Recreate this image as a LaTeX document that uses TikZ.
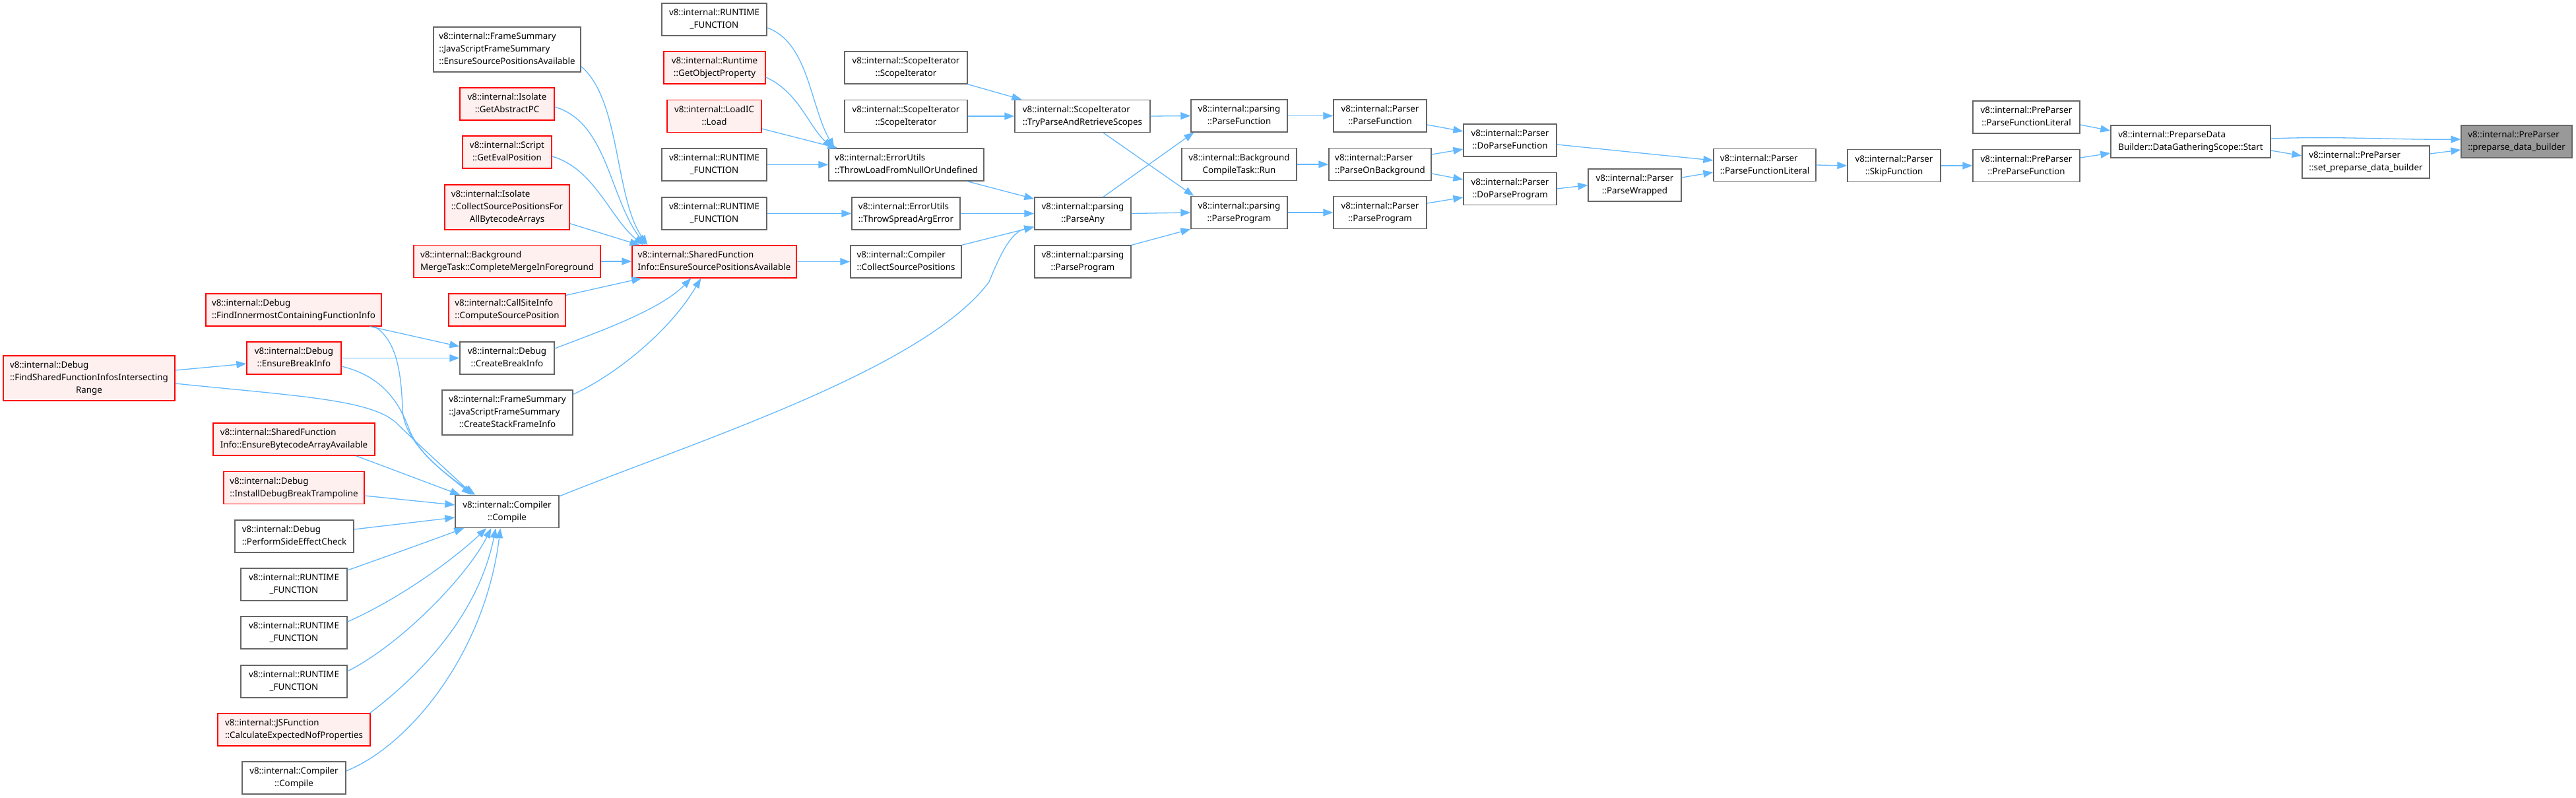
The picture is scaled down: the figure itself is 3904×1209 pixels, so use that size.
\documentclass[tikz,border=0pt]{standalone}
\usepackage{fontspec}
\setmainfont{Noto Sans}
\usetikzlibrary{arrows.meta}
\definecolor{ebl}{HTML}{63B8FF}
\definecolor{bgr}{HTML}{666666}
\definecolor{rfill}{HTML}{FFF0F0}
\definecolor{tgray}{HTML}{999999}
\newcommand\lbl[2]{\begin{tabular}{@{}l@{}}#1\\\multicolumn{1}{@{}c@{}}{#2}\end{tabular}}
\tikzset{
  wbox/.style={draw=bgr, fill=white, line width=1.3pt, inner sep=0pt,
    font=\fontsize{13.33}{19}\selectfont, minimum height=49pt},
  rbox/.style={wbox, draw=red, fill=rfill},
  tbox/.style={wbox, fill=tgray},
  ln/.style={draw=ebl, line width=1.3pt, -{Triangle[length=15pt,width=11pt]}}
}
\begin{document}
\begin{tikzpicture}[x=1pt,y=1pt]
\useasboundingbox (0,0) rectangle (3904,-1209);
% column 1
\node[rbox, minimum width=260pt, minimum height=68pt] (fsr) at (135,-573) {\lbl{v8::internal::Debug\\::FindSharedFunctionInfosIntersecting}{Range}};
% column 2
\node[rbox, minimum width=266pt] (finn) at (445,-469.5) {\lbl{v8::internal::Debug}{::FindInnermostContainingFunctionInfo}};
\node[rbox, minimum width=143pt] (ebi) at (445.5,-542.5) {\lbl{v8::internal::Debug}{::EnsureBreakInfo}};
\node[rbox, minimum width=245pt] (ebaa) at (445.5,-665.5) {\lbl{v8::internal::SharedFunction}{Info::EnsureBytecodeArrayAvailable}};
\node[rbox, minimum width=213pt] (idbt) at (445.5,-739) {\lbl{v8::internal::Debug}{::InstallDebugBreakTrampoline}};
\node[wbox, minimum width=180pt] (psec) at (446,-812.5) {\lbl{v8::internal::Debug}{::PerformSideEffectCheck}};
\node[wbox, minimum width=161pt] (rf1) at (445.5,-885.5) {\lbl{v8::internal::RUNTIME}{\_FUNCTION}};
\node[wbox, minimum width=161pt] (rf2) at (445.5,-958.5) {\lbl{v8::internal::RUNTIME}{\_FUNCTION}};
\node[wbox, minimum width=161pt] (rf3) at (445.5,-1032.5) {\lbl{v8::internal::RUNTIME}{\_FUNCTION}};
\node[rbox, minimum width=231pt] (cenp) at (445.5,-1105.5) {\lbl{v8::internal::JSFunction}{::CalculateExpectedNofProperties}};
\node[wbox, minimum width=157pt] (cc2) at (445.5,-1178.5) {\lbl{v8::internal::Compiler}{::Compile}};
% column 3
\node[wbox, minimum width=223pt, minimum height=68pt] (fsesp) at (768.5,-75) {\lbl{v8::internal::FrameSummary\\::JavaScriptFrameSummary}{::EnsureSourcePositionsAvailable}};
\node[rbox, minimum width=143pt] (gapc) at (768.5,-157.5) {\lbl{v8::internal::Isolate}{::GetAbstractPC}};
\node[rbox, minimum width=135pt] (gep) at (768.5,-230.5) {\lbl{v8::internal::Script}{::GetEvalPosition}};
\node[rbox, minimum width=189pt, minimum height=68pt] (csp4all) at (768.5,-314) {\lbl{v8::internal::Isolate\\::CollectSourcePositionsFor}{AllBytecodeArrays}};
\node[rbox, minimum width=283pt] (bmt) at (768.5,-396) {\lbl{v8::internal::Background}{MergeTask::CompleteMergeInForeground}};
\node[rbox, minimum width=177pt] (csi) at (768.5,-469.5) {\lbl{v8::internal::CallSiteInfo}{::ComputeSourcePosition}};
\node[wbox, minimum width=143pt] (cbi) at (768.5,-542.5) {\lbl{v8::internal::Debug}{::CreateBreakInfo}};
\node[wbox, minimum width=198pt, minimum height=68pt] (csfi) at (769,-625) {\lbl{v8::internal::FrameSummary\\::JavaScriptFrameSummary}{::CreateStackFrameInfo}};
\node[wbox, minimum width=157pt] (comp) at (768.5,-775) {\lbl{v8::internal::Compiler}{::Compile}};
% column 4
\node[wbox, minimum width=159pt] (rft) at (1082.5,-29.5) {\lbl{v8::internal::RUNTIME}{\_FUNCTION}};
\node[rbox, minimum width=154pt] (gop) at (1083,-102.5) {\lbl{v8::internal::Runtime}{::GetObjectProperty}};
\node[rbox, minimum width=143pt] (lic) at (1082.5,-176) {\lbl{v8::internal::LoadIC}{::Load}};
\node[wbox, minimum width=159pt] (rfm) at (1082.5,-249.5) {\lbl{v8::internal::RUNTIME}{\_FUNCTION}};
\node[wbox, minimum width=159pt] (rfl) at (1082.5,-323.5) {\lbl{v8::internal::RUNTIME}{\_FUNCTION}};
\node[rbox, minimum width=249pt] (sfi) at (1082.5,-396.5) {\lbl{v8::internal::SharedFunction}{Info::EnsureSourcePositionsAvailable}};
% column 5
\node[wbox, minimum width=186pt] (si1) at (1373,-102.5) {\lbl{v8::internal::ScopeIterator}{::ScopeIterator}};
\node[wbox, minimum width=186pt] (si2) at (1373,-176) {\lbl{v8::internal::ScopeIterator}{::ScopeIterator}};
\node[wbox, minimum width=235pt] (tle) at (1373.5,-249.5) {\lbl{v8::internal::ErrorUtils}{::ThrowLoadFromNullOrUndefined}};
\node[wbox, minimum width=164pt] (tsa) at (1373,-323.5) {\lbl{v8::internal::ErrorUtils}{::ThrowSpreadArgError}};
\node[wbox, minimum width=168pt] (csp) at (1373,-396.5) {\lbl{v8::internal::Compiler}{::CollectSourcePositions}};
% column 6
\node[wbox, minimum width=205pt] (tpr) at (1640.5,-176) {\lbl{v8::internal::ScopeIterator}{::TryParseAndRetrieveScopes}};
\node[wbox, minimum width=146pt] (pany) at (1641,-323.5) {\lbl{v8::internal::parsing}{::ParseAny}};
\node[wbox, minimum width=146pt] (ppl) at (1641,-396.5) {\lbl{v8::internal::parsing}{::ParseProgram}};
% column 7
\node[wbox, minimum width=146pt] (pfn) at (1878,-175.5) {\lbl{v8::internal::parsing}{::ParseFunction}};
\node[wbox, minimum width=174pt] (bct) at (1878,-249) {\lbl{v8::internal::Background}{CompileTask::Run}};
\node[wbox, minimum width=146pt] (ppr) at (1878,-322) {\lbl{v8::internal::parsing}{::ParseProgram}};
% column 8
\node[wbox, minimum width=141pt] (ppf) at (2091.5,-175.5) {\lbl{v8::internal::Parser}{::ParseFunction}};
\node[wbox, minimum width=155pt] (pob) at (2091.5,-249) {\lbl{v8::internal::Parser}{::ParseOnBackground}};
\node[wbox, minimum width=141pt] (ppp) at (2091.5,-322) {\lbl{v8::internal::Parser}{::ParseProgram}};
% further columns
\node[wbox, minimum width=141pt] (dpf) at (2288.5,-212.5) {\lbl{v8::internal::Parser}{::DoParseFunction}};
\node[wbox, minimum width=141pt] (dpp) at (2288.5,-286) {\lbl{v8::internal::Parser}{::DoParseProgram}};
\node[wbox, minimum width=141pt] (pw) at (2477.5,-280.5) {\lbl{v8::internal::Parser}{::ParseWrapped}};
\node[wbox, minimum width=155pt] (pfl) at (2674.5,-250) {\lbl{v8::internal::Parser}{::ParseFunctionLiteral}};
\node[wbox, minimum width=141pt] (sf) at (2870.5,-251) {\lbl{v8::internal::Parser}{::SkipFunction}};
\node[wbox, minimum width=162pt] (prepfl) at (3071,-177.5) {\lbl{v8::internal::PreParser}{::ParseFunctionLiteral}};
\node[wbox, minimum width=162pt] (ppfn) at (3071,-251) {\lbl{v8::internal::PreParser}{::PreParseFunction}};
\node[wbox, minimum width=242pt] (start) at (3320,-214.5) {\lbl{v8::internal::PreparseData}{Builder::DataGatheringScope::Start}};
\node[wbox, minimum width=193pt] (setpdb) at (3585.5,-245.5) {\lbl{v8::internal::PreParser}{::set\_preparse\_data\_builder}};
\node[tbox, minimum width=168pt] (pdb) at (3814,-214.5) {\lbl{v8::internal::PreParser}{::preparse\_data\_builder}};

% ---- edges: straight horizontal
\draw[ln] (bmt.east) -- (sfi.west |- bmt.east);
\draw[ln] (rfm.east) -- (tle.west);
\draw[ln] (rfl.east) -- (tsa.west);
\draw[ln] (sfi.east) -- (csp.west);
\draw[ln] (tsa.east) -- (pany.west);
\draw[ln] (si2.east) -- (tpr.west);
\draw[ln] (tpr.east) -- (pfn.west);
\draw[ln] (pany.east) -- (ppr.west);
\draw[ln] (pfn.east) -- (ppf.west);
\draw[ln] (bct.east) -- (pob.west);
\draw[ln] (ppr.east) -- (ppp.west);
\draw[ln] (pfl.east) -- (sf.west);
\draw[ln] (sf.east) -- (ppfn.west);
\draw[ln] (ebi.east) -- (cbi.west);
\draw[ln] (dpp.east) -- (pw.west);
% ---- straight diagonals
\draw[ln] (si1.south east) -- ([xshift=11pt]tpr.north west);
\draw[ln] ([yshift=-19pt]lic.east) -- ([xshift=14pt]tle.north west);
\draw[ln] ([xshift=-26pt]tle.south east) -- ([yshift=-3pt]pany.north west);
\draw[ln] (csp.north east) -- ([yshift=5pt]pany.south west);
\draw[ln] ([xshift=31pt]pany.north) -- ([xshift=5pt]pfn.south west);
\draw[ln] ([xshift=31.5pt]tpr.south) -- ([xshift=5pt]ppr.north west);
\draw[ln] (ppl.north east) -- (ppr.south west);
\draw[ln] ([yshift=-13.5pt]ppf.east) -- ([yshift=13.5pt]dpf.west);
\draw[ln] ([yshift=15pt]pob.east) -- ([yshift=-13.5pt]dpf.west);
\draw[ln] ([yshift=-14pt]pob.east) -- ([yshift=14pt]dpp.west);
\draw[ln] ([yshift=14pt]ppp.east) -- ([yshift=-13pt]dpp.west);
\draw[ln] ([yshift=-6.5pt]dpf.east) -- ([yshift=7pt]pfl.west);
\draw[ln] ([yshift=11.5pt]pw.east) -- ([yshift=-11pt]pfl.west);
\draw[ln] ([yshift=-11.5pt]prepfl.east) -- ([yshift=16.5pt]start.west);
\draw[ln] ([yshift=12pt]ppfn.east) -- ([yshift=-17.5pt]start.west);
\draw[ln] ([yshift=-13.5pt]start.east) -- ([yshift=9.5pt]setpdb.west);
\draw[ln] ([yshift=12.5pt]setpdb.east) -- ([yshift=-12.5pt]pdb.west);
\draw[ln] ([yshift=4.5pt]start.east) .. controls +(100,4) and +(-100,-1) .. ([yshift=3.5pt]pdb.west);
\draw[ln] ([xshift=-18pt]finn.south east) -- ([yshift=17.5pt]cbi.west);
\draw[ln] ([yshift=12pt]fsr.east) -- ([yshift=-8.5pt]ebi.west);
\draw[ln] ([yshift=-3pt]csi.north east) -- ([xshift=15pt]sfi.south west);
\draw[ln] ([yshift=10pt]csp4all.south east) -- ([xshift=12pt]sfi.north west);
% ---- curves into sfi
\draw[ln] ([yshift=9pt]fsesp.south east) .. controls +(60,-50) and +(-50,72) .. ([xshift=24pt]sfi.north west);
\draw[ln] ([yshift=-4.5pt]gapc.east) .. controls +(80,-23) and +(-55,72) .. ([xshift=21pt]sfi.north west);
\draw[ln] ([yshift=-6.5pt]gep.east) .. controls +(64,-18) and +(-50,40) .. ([xshift=18pt]sfi.north west);
\draw[ln] ([yshift=14.5pt]cbi.east) .. controls +(60,23) and +(-48,-49) .. ([xshift=90pt]sfi.south west);
\draw[ln] ([yshift=-7pt]csfi.north east) .. controls +(52,23) and +(-53,-89) .. ([xshift=105pt]sfi.south west);
% ---- curves into tle
\draw[ln] ([yshift=-12.5pt]rft.east) .. controls +(63,-23) and +(-37,65) .. ([xshift=9pt]tle.north west);
\draw[ln] ([yshift=-14.5pt]gop.east) .. controls +(50,-23) and +(-37,35) .. ([xshift=6pt]tle.north west);
% ---- compile to parse any
\draw[ln] ([yshift=-2pt]comp.north east) .. controls (1050,-670) and (1400,-560) .. (1499,-427)
   .. controls (1512,-395) and (1530,-352) .. ([yshift=5pt]pany.south west);
% ---- into compile from above
\draw[ln] ([yshift=-8pt]fsr.east) .. controls (450,-600) and (560,-605) .. (600,-640)
   .. controls (630,-670) and (680,-715) .. ([xshift=28pt]comp.north west);
\draw[ln] ([yshift=-12.5pt]ebi.east) .. controls (580,-570) and (605,-610) .. (620,-650)
   .. controls (635,-690) and (680,-720) .. ([xshift=25pt]comp.north west);
\draw[ln] ([xshift=-11pt]finn.south east) .. controls (600,-515) and (608,-560) .. (610,-620)
   .. controls (612,-670) and (670,-715) .. ([xshift=31pt]comp.north west);
\draw[ln] ([xshift=-29pt]ebaa.south east) -- ([xshift=8pt]comp.north west);
\draw[ln] ([yshift=-12pt]idbt.east) -- ([yshift=10pt]comp.west);
\draw[ln] ([yshift=10.5pt]psec.east) -- ([yshift=-9pt]comp.west);
% ---- into compile from below
\draw[ln] ([yshift=21.5pt]rf1.east) .. controls (580,-845) and (650,-820) .. ([xshift=14pt]comp.south west);
\draw[ln] ([yshift=16.5pt]rf2.east) .. controls (610,-905) and (690,-845) .. ([xshift=48pt]comp.south west);
\draw[ln] ([yshift=15.5pt]rf3.east) .. controls (610,-975) and (710,-870) .. ([xshift=55pt]comp.south west);
\draw[ln] ([xshift=-1pt]cenp.north east) .. controls (640,-1020) and (725,-930) .. ([xshift=62pt]comp.south west);
\draw[ln] ([yshift=10.5pt]cc2.east) .. controls (620,-1130) and (735,-990) .. ([xshift=69pt]comp.south west);
\end{tikzpicture}
\end{document}
